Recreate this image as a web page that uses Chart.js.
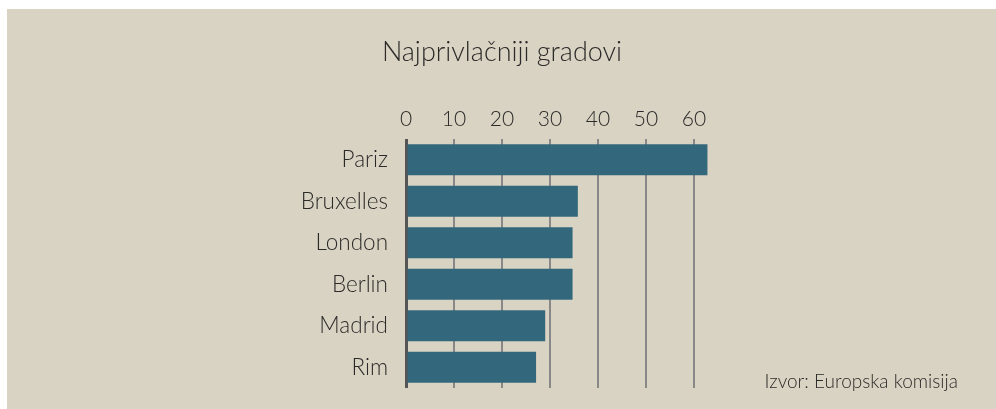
<!DOCTYPE html>
<html>
<head>
<meta charset="utf-8">
<script src="https://cdn.jsdelivr.net/npm/chart.js@4"></script>
<style>
  html, body { margin: 0; padding: 0; background: #ffffff; }
  #wrap { width: 996px; height: 409px; position: relative; }
</style>
</head>
<body>
<div id="wrap"><canvas id="chart" width="996" height="409"></canvas></div>
<script>
const categories = ["Pariz", "Bruxelles", "London", "Berlin", "Madrid", "Rim"]
const values = [62.8, 35.8, 34.7, 34.7, 29.0, 27.1]
const tickValues = [0, 10, 20, 30, 40, 50, 60]

const chartTitle = "Najprivlačniji gradovi"
const sourceText = "Izvor: Europska komisija"

const fontFamily = "Lato, 'Open Sans', sans-serif"
const textColor = "#2b2a28"

// background + title + source
const decor = {
  id: 'decor',
  beforeDraw(chart){
    const ctx = chart.ctx
    ctx.save()
    ctx.fillStyle = '#d9d3c3'
    ctx.fillRect(7, 9, chart.width - 7, chart.height - 9)
    ctx.fillStyle = textColor
    ctx.textBaseline = 'middle'
    ctx.textAlign = 'center'
    ctx.font = "300 27px " + fontFamily
    ctx.fillText(chartTitle, 502, 52)
    ctx.textAlign = 'right'
    ctx.font = "300 19px " + fontFamily
    ctx.fillText(sourceText, 958, 382)
    ctx.restore()
  }
}

let ctx = document.getElementById('chart').getContext('2d')
let graph = new Chart(ctx, {
  type: 'bar',
  data: {
    labels: categories,
    datasets: [{
      data: values,
      backgroundColor: '#33687c',
      borderWidth: 0,
      barPercentage: 0.75,
      categoryPercentage: 1
    }]
  },
  options: {
    indexAxis: 'y',
    responsive: false,
    animation: false,
    layout: { padding: { top: 99, right: 278, bottom: 21, left: 0 } },
    plugins: {
      legend: { display: false },
      title: { display: false },
      tooltip: { enabled: false }
    },
    scales: {
      x: {
        position: 'top',
        min: 0,
        max: 65,
        afterFit: (scale) => { scale.height = 40 },
        afterBuildTicks: (scale) => {
          scale.ticks = tickValues.map(v => ({ value: v }))
        },
        border: { display: false },
        grid: {
          drawTicks: false,
          color: (c) => c.tick && c.tick.value === 0 ? '#555555' : '#888888',
          lineWidth: (c) => c.tick && c.tick.value === 0 ? 3 : 2
        },
        ticks: {
          padding: 7,
          color: textColor,
          font: { family: fontFamily, size: 21, weight: 300 }
        }
      },
      y: {
        afterFit: (scale) => {
          scale.width = 406
          scale.paddingTop = 0
          scale.paddingBottom = 0
        },
        border: { display: false },
        grid: { display: false, drawTicks: false },
        ticks: {
          padding: 18,
          color: textColor,
          font: { family: fontFamily, size: 22.5, weight: 300 }
        }
      }
    }
  },
  plugins: [decor]
})
</script>
</body>
</html>
